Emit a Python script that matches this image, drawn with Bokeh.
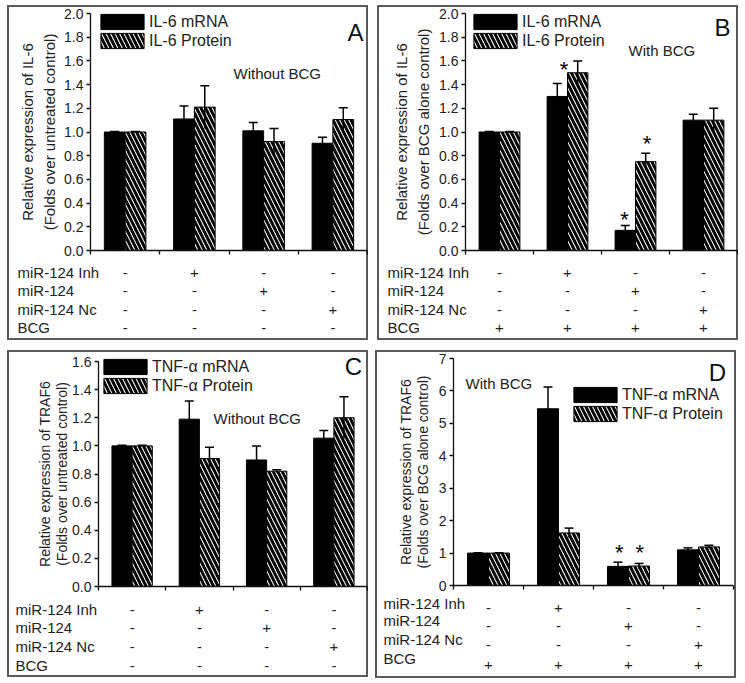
import numpy as np
from bokeh.plotting import figure
from bokeh.models import (ColumnDataSource, Range1d, LinearAxis, FixedTicker, SingleIntervalTicker,
                          PrintfTickFormatter, Whisker, TeeHead, Label, Legend, LegendItem)
from bokeh.layouts import column, row
from bokeh.embed import file_html
from bokeh.resources import INLINE
from bokeh.core.properties import value

FONT = "Liberation Sans"

# ---------------- data ----------------
groups = ["Control", "miR-124 Inh", "miR-124", "miR-124 Nc"]
row_names = ["miR-124 Inh", "miR-124", "miR-124 Nc", "BCG"]
signs_without_bcg = [["-", "+", "-", "-"],
                     ["-", "-", "+", "-"],
                     ["-", "-", "-", "+"],
                     ["-", "-", "-", "-"]]
signs_with_bcg = [["-", "+", "-", "-"],
                  ["-", "-", "+", "-"],
                  ["-", "-", "-", "+"],
                  ["+", "+", "+", "+"]]

il6_names = ["IL-6 mRNA", "IL-6 Protein"]
tnf_names = ["TNF-\u03b1 mRNA", "TNF-\u03b1 Protein"]

# Panel A (IL-6, without BCG)
a_mrna = [1.0, 1.11, 1.01, 0.905]
a_mrna_err = [0.005, 0.11, 0.07, 0.05]
a_prot = [1.0, 1.21, 0.92, 1.105]
a_prot_err = [0.005, 0.18, 0.11, 0.10]

# Panel B (IL-6, with BCG)
b_mrna = [1.0, 1.30, 0.17, 1.10]
b_mrna_err = [0.005, 0.11, 0.04, 0.05]
b_prot = [1.0, 1.50, 0.75, 1.10]
b_prot_err = [0.005, 0.10, 0.07, 0.10]
b_star_x = [1.45, 2.34, 2.67]
b_star_y = [1.59, 0.32, 0.96]

# Panel C (TRAF6, without BCG)
c_mrna = [1.0, 1.19, 0.90, 1.055]
c_mrna_err = [0.005, 0.13, 0.10, 0.055]
c_prot = [1.0, 0.91, 0.82, 1.20]
c_prot_err = [0.005, 0.08, 0.01, 0.15]

# Panel D (TRAF6, with BCG)
d_mrna = [1.0, 5.45, 0.59, 1.10]
d_mrna_err = [0.01, 0.67, 0.13, 0.06]
d_prot = [1.0, 1.62, 0.60, 1.19]
d_prot_err = [0.01, 0.15, 0.08, 0.05]
d_star_x = [2.37, 2.66]
d_star_y = [1.22, 1.22]


def panel(w, h, fl, fr, ft, fb, ymax, yint, fmt, ylabel, lab_size, lab_lh, lab_standoff,
          mrna, mrna_err, prot, prot_err, names, leg_xy, letter, letter_xy, note, note_xy,
          label_x, label_off, sign_off, signs, star_x=None, star_y=None):
    # plot area (axes box) geometry in panel pixels
    fw = w - fl - fr
    fh = h - ft - fb
    ppx = fw / 4.0
    ppy = fh / ymax

    def fx(px):
        return px / ppx

    def fy(py):
        return ymax - py / ppy

    p = figure(width=w, height=h,
               x_range=Range1d(-fl / ppx, (w - fl) / ppx),
               y_range=Range1d(-fb / ppy, ymax + ft / ppy),
               output_backend="svg", toolbar_location=None, tools="",
               min_border=0, x_axis_type=None, y_axis_type=None)
    p.outline_line_color = "#5a5a5a"
    p.outline_line_width = 3
    p.background_fill_color = "white"
    p.border_fill_color = "white"

    xax = LinearAxis(ticker=FixedTicker(ticks=[], minor_ticks=[0, 1, 2, 3, 4]),
                     fixed_location=0, bounds=(0, 4))
    xax.minor_tick_out = 4
    xax.minor_tick_in = 0
    xax.minor_tick_line_width = 1.3
    xax.minor_tick_line_color = "#111111"
    xax.axis_line_width = 1.3
    xax.axis_line_color = "#111111"
    p.add_layout(xax, "below")

    yax = LinearAxis(ticker=SingleIntervalTicker(interval=yint, num_minor_ticks=0),
                     formatter=PrintfTickFormatter(format=fmt), axis_label=ylabel,
                     fixed_location=0, bounds=(0, ymax))
    yax.major_label_text_font = FONT
    yax.major_label_text_font_size = "14px"
    yax.major_label_text_color = "#222222"
    yax.major_label_standoff = 3
    yax.major_tick_out = 4
    yax.major_tick_in = 0
    yax.axis_line_width = 1.3
    yax.major_tick_line_width = 1.3
    yax.axis_line_color = "#111111"
    yax.major_tick_line_color = "#111111"
    yax.axis_label_text_font = FONT
    yax.axis_label_text_font_size = lab_size
    yax.axis_label_text_font_style = "normal"
    yax.axis_label_text_color = "#222222"
    yax.axis_label_text_line_height = lab_lh
    yax.axis_label_standoff = lab_standoff
    p.add_layout(yax, "left")

    xc = np.arange(4) + 0.5
    m = np.array(mrna)
    me = np.array(mrna_err)
    pr = np.array(prot)
    pe = np.array(prot_err)
    src = ColumnDataSource(dict(xm=xc - 0.15, xp=xc + 0.15, m=m, p=pr,
                                mlo=m - me, mhi=m + me, plo=pr - pe, phi=pr + pe))
    r1 = p.vbar(x="xm", top="m", width=0.3, source=src, fill_color="black",
                line_color="black", line_width=1)
    r2 = p.vbar(x="xp", top="p", width=0.3, source=src, fill_color="white",
                line_color="black", line_width=1, hatch_pattern="\\",
                hatch_color="black", hatch_scale=9, hatch_weight=3)

    for base, lo, hi in (("xm", "mlo", "mhi"), ("xp", "plo", "phi")):
        wk = Whisker(source=src, base=base, lower=lo, upper=hi,
                     upper_head=TeeHead(size=9, line_width=1.5, line_color="black"),
                     lower_head=None, line_width=1.5, line_color="black", level="overlay")
        p.add_layout(wk)

    if star_x is not None:
        ssrc = ColumnDataSource(dict(x=star_x, y=star_y))
        p.text(x="x", y="y", text=value("*"), source=ssrc, text_font=value(FONT),
               text_font_size="22px", text_align="center", text_baseline="middle",
               y_offset=7, text_color="black")

    legend = Legend(items=[LegendItem(label=names[0], renderers=[r1]),
                           LegendItem(label=names[1], renderers=[r2])])
    legend.glyph_width = 54
    legend.glyph_height = 19
    legend.label_height = 19
    legend.label_standoff = 0
    legend.spacing = 0
    legend.padding = 0
    legend.margin = 0
    legend.border_line_color = None
    legend.background_fill_alpha = 0
    legend.label_text_font = FONT
    legend.label_text_font_size = "16px"
    legend.label_text_color = "#222222"
    leg_h = 38
    lx = fl + leg_xy[0] - 5
    ltop = ft + leg_xy[1] - 2
    legend.location = (lx, h - ltop - leg_h)
    p.add_layout(legend)

    p.add_layout(Label(x=fx(letter_xy[0]), y=fy(letter_xy[1]), text=letter, text_font=FONT,
                       text_font_size="24px", text_align="center", text_baseline="middle",
                       text_color="#111111"))
    p.add_layout(Label(x=fx(note_xy[0]), y=fy(note_xy[1]), text=note, text_font=FONT,
                       text_font_size="15px", text_align="left", text_baseline="middle",
                       text_color="#222222"))

    # treatment table below the x axis
    for r, name in enumerate(row_names):
        p.add_layout(Label(x=fx(label_x - fl), y=-label_off[r] / ppy, text=name,
                           text_font=FONT, text_font_size="15px", text_align="left",
                           text_baseline="middle", text_color="#222222"))
        for c in range(4):
            p.add_layout(Label(x=xc[c], y=-sign_off[r] / ppy, text=signs[r][c],
                               text_font=FONT, text_font_size="15px", text_align="center",
                               text_baseline="middle", text_color="#222222"))
    return p


pa = panel(361, 335, 83, 1, 8, 90, 2.0, 0.2, "%.1f",
           "Relative expression of IL-6\n(Folds over untreated control)", "15px", 1.3, 3,
           a_mrna, a_mrna_err, a_prot, a_prot_err, il6_names, (10, 1),
           "A", (265, 19), "Without BCG", (143, 60),
           10, [22, 40, 59, 77], [22, 40, 59, 77], signs_without_bcg)

pb = panel(361, 335, 88, 1, 8, 90, 2.0, 0.2, "%.1f",
           "Relative expression of IL-6\n(Folds over BCG alone control)", "15px", 1.3, 4,
           b_mrna, b_mrna_err, b_prot, b_prot_err, il6_names, (8, 1),
           "B", (257, 14), "With BCG", (163, 37),
           10, [22, 40, 59, 77], [22, 40, 59, 77], signs_with_bcg, b_star_x, b_star_y)

pc = panel(361, 327, 91, 1, 11, 91, 1.6, 0.2, "%.1f",
           "Relative expression of TRAF6\n(Folds over untreated control)", "14px", 1.05, -1,
           c_mrna, c_mrna_err, c_prot, c_prot_err, tnf_names, (5, -2),
           "C", (255, 5), "Without BCG", (115, 57),
           8, [23, 41, 60, 79], [23, 41, 60, 79], signs_without_bcg)

pd = panel(361, 328, 78, 3, 8, 93, 7.0, 1.0, "%d",
           "Relative expression of TRAF6\n(Folds over BCG alone control)", "14px", 1.05, 5,
           d_mrna, d_mrna_err, d_prot, d_prot_err, tnf_names, (120, 29),
           "D", (264, 14), "With BCG", (12, 25),
           8, [18, 35, 54, 73], [22, 40, 59, 79], signs_with_bcg, d_star_x, d_star_y)

layout = column(row(pa, pb, spacing=9), row(pc, pd, spacing=7), spacing=10,
                margin=(5, 0, 0, 7))

open("out.html", "w").write(file_html(layout, INLINE))
